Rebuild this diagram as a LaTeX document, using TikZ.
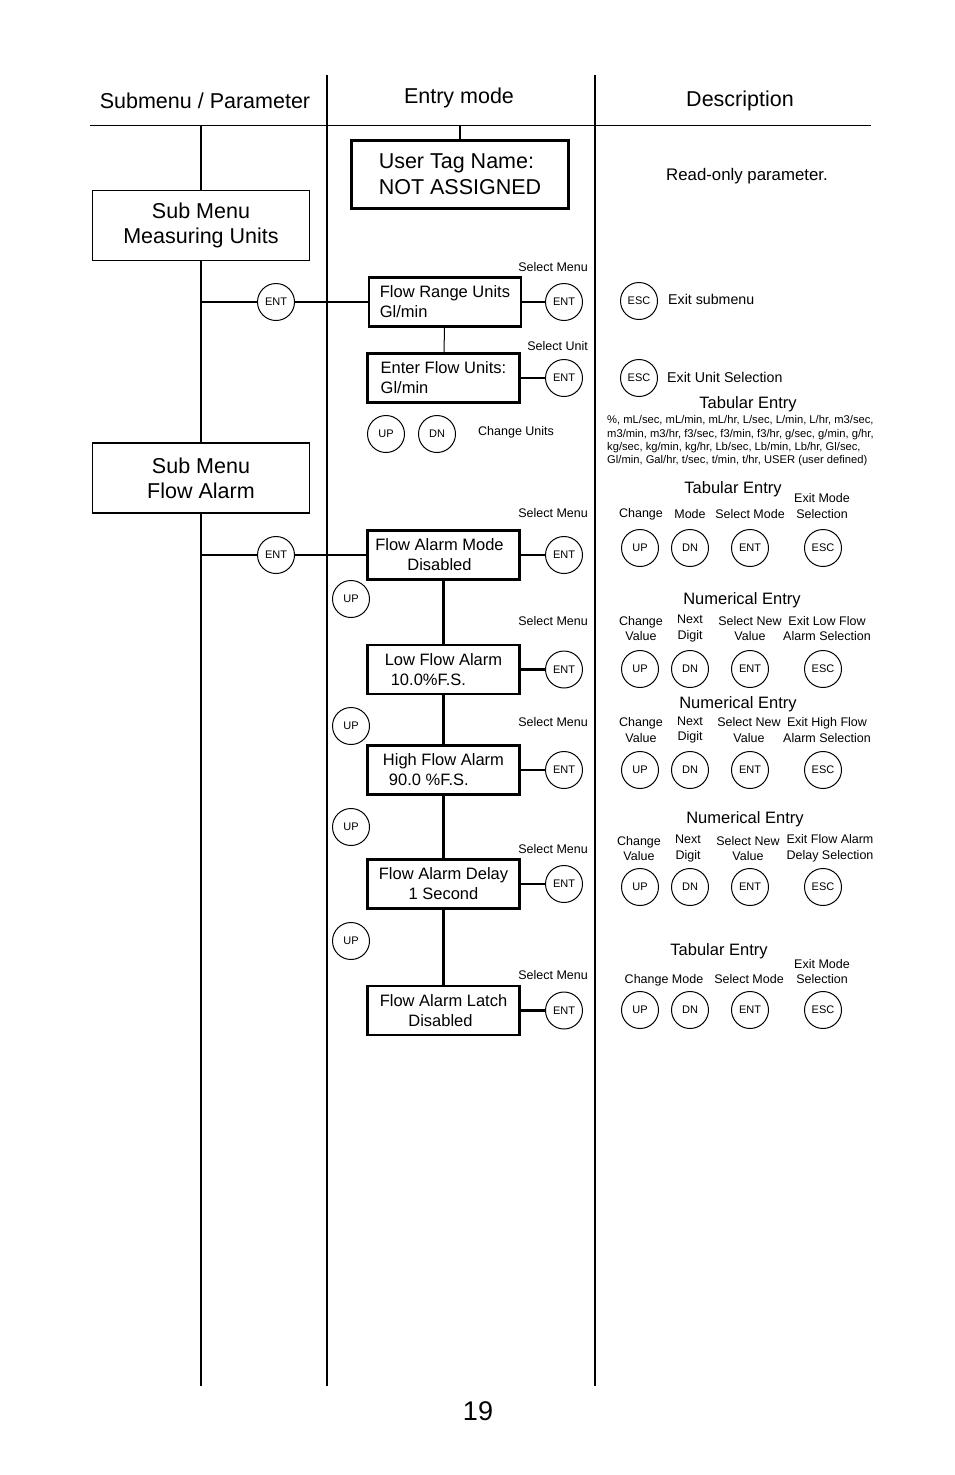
\documentclass[tikz,border=0pt]{standalone}
\usepackage{fontspec}
\setmainfont{Liberation Sans}
\usetikzlibrary{positioning}

\newcommand{\fHead}{\fontsize{21.5}{25}\selectfont}
\newcommand{\fLcd}{\fontsize{16.5}{20}\selectfont}
\newcommand{\fKey}{\fontsize{11}{13}\selectfont}
\newcommand{\fSmall}{\fontsize{12.5}{15.5}\selectfont}
\newcommand{\fTitle}{\fontsize{16.5}{20}\selectfont}
\newcommand{\fUnits}{\fontsize{11.2}{13.3}\selectfont}
\newcommand{\fDesc}{\fontsize{14.2}{17}\selectfont}

\tikzset{
	lcd/.style = {draw, line width = 2.5pt, minimum width = 152pt, minimum height = 49pt, inner sep = 0pt, font = \fLcd},
	submenu/.style = {draw, minimum width = 217pt, minimum height = 70pt, inner sep = 0pt, align = center, font = \fHead},
	key/.style = {draw, circle, line width = 1pt, minimum size = 37pt, inner sep = 0pt, font = \fKey},
	note/.style = {inner sep = 0pt, align = center, font = \fSmall},
	title/.style = {inner sep = 0pt, font = \fTitle},
	rule/.style = {black, line width = 2pt},
	link/.style = {black, line width = 2.2pt},
}

\begin{document}
\begin{tikzpicture}[x = 1pt, y = -1pt]
	\useasboundingbox (0, 0) rectangle (954, 1475);

	% headings and column rules
	\node (hsub) at (205, 101) [font = \fHead] {Submenu / Parameter};
	\node (hentry) at (459, 98) [font = \fHead] {Entry mode};
	\node (hdesc) at (740, 101) [font = \fHead] {Description};
	\coordinate (ruleL) at (90, 125);
	\coordinate (ruleR) at (871, 125);
	\draw [black, line width = 1pt] (ruleL) -- (ruleR);
	\coordinate (colAtop) at (327, 75);
	\coordinate (colAbot) at (327, 1386);
	\coordinate (colBtop) at (595, 75);
	\coordinate (colBbot) at (595, 1386);
	\draw [rule] (colAtop) -- (colAbot);
	\draw [rule] (colBtop) -- (colBbot);

	% submenu column
	\coordinate (leftTop) at (201, 125);
	\coordinate (leftBot) at (201, 1386);
	\node (meas) at (201, 225) [submenu, line width = 1pt] {Sub Menu\\Measuring Units};
	\node (alarm) at (201, 478) [submenu, line width = 1.8pt] {Sub Menu\\Flow Alarm};
	\draw [link, line width = 2.5pt] (leftTop) -- (meas.north);
	\draw [link, line width = 2.5pt] (meas.south) -- (alarm.north);
	\draw [link, line width = 2.5pt] (alarm.south) -- (leftBot);

	% user tag
	\coordinate (tagTop) at (460, 125);
	\node (tag) at (460, 174.5) [lcd, minimum width = 217pt, minimum height = 68pt, align = left, font = \fontsize{21.5}{26}\selectfont] {User Tag Name:\\NOT ASSIGNED};
	\draw [link] (tagTop) -- (tag);
	\node (ro) at (747, 176) [inner sep = 0pt, font = \fontsize{16.8}{19}\selectfont] {Read-only parameter.};

	% measuring units
	\coordinate (j1) at (201, 302);
	\node (entA) at (276, 302) [key] {ENT};
	\node (range) at (445, 302) [lcd, align = left] {Flow Range Units\\Gl/min};
	\node (entB) at (564, 302) [key] {ENT};
	\draw [link] (j1) -- (entA) -- (range) -- (entB);
	\node (selA) at (588, 267) [note, anchor = east] {Select Menu};
	\node (units) at (443.5, 378) [lcd, align = left] {Enter Flow Units:\\Gl/min};
	\draw [black, line width = 1pt] (range) -- (units);
	\node (entC) at (564, 378) [key] {ENT};
	\draw [link] (units) -- (entC);
	\node (selU) at (588, 346) [note, anchor = east] {Select Unit};
	\node (upA) at (386, 434) [key] {UP};
	\node (dnA) at (437, 434) [key] {DN};
	\node (chgU) at (478, 432) [note, anchor = west] {Change Units};

	\node (escA) at (639, 301) [key] {ESC};
	\node (exitA) at (668, 299) [anchor = west, inner sep = 0pt, font = \fDesc] {Exit submenu};
	\node (escB) at (639, 378) [key] {ESC};
	\node (exitB) at (667, 377) [anchor = west, inner sep = 0pt, font = \fDesc] {Exit Unit Selection};
	\node (tabA) at (748, 404) [title] {Tabular Entry};
	\node (list) at (607, 441) [anchor = west, align = left, inner sep = 0pt, font = \fUnits] {\%, mL/sec, mL/min, mL/hr, L/sec, L/min, L/hr, m3/sec,\\m3/min, m3/hr, f3/sec, f3/min, f3/hr, g/sec, g/min, g/hr,\\kg/sec, kg/min, kg/hr, Lb/sec, Lb/min, Lb/hr, Gl/sec,\\Gl/min, Gal/hr, t/sec, t/min, t/hr, USER (user defined)};

	% flow alarm
	\coordinate (j2) at (201, 555);
	\node (entD) at (276, 555) [key] {ENT};
	\node (mode) at (443.5, 555) [lcd, align = center] {Flow Alarm Mode\hspace*{8pt}\\Disabled\hspace*{8pt}};
	\node (entE) at (564, 555) [key] {ENT};
	\draw [link] (j2) -- (entD) -- (mode) -- (entE);
	\node (selB) at (588, 513) [note, anchor = east] {Select Menu};
	\node (upB) at (351, 599) [key] {UP};

	\node (low) at (443.5, 669.5) [lcd, align = left] {Low Flow Alarm\\\hspace*{6pt}10.0\%F.S.};
	\node (entF) at (564, 669.5) [key] {ENT};
	\draw [link] (mode) -- (low);
	\draw [link] (low) -- (entF);
	\node (selC) at (588, 621) [note, anchor = east] {Select Menu};
	\node (upC) at (351, 726) [key] {UP};

	\node (high) at (443.5, 770) [lcd, align = left] {High Flow Alarm\\\hspace*{6pt}90.0 \%F.S.};
	\node (entG) at (564, 770) [key] {ENT};
	\draw [link] (low) -- (high);
	\draw [link] (high) -- (entG);
	\node (selD) at (588, 722) [note, anchor = east] {Select Menu};
	\node (upD) at (351, 827) [key] {UP};

	\node (delay) at (443.5, 884) [lcd, align = center] {Flow Alarm Delay\\1 Second};
	\node (entH) at (564, 884) [key] {ENT};
	\draw [link] (high) -- (delay);
	\draw [link] (delay) -- (entH);
	\node (selE) at (588, 849) [note, anchor = east] {Select Menu};
	\node (upE) at (351, 941) [key] {UP};

	\node (latch) at (443.5, 1010.5) [lcd, align = center] {Flow Alarm Latch\\Disabled\hspace*{6pt}};
	\node (entI) at (564, 1010.5) [key] {ENT};
	\draw [link] (delay) -- (latch);
	\draw [link] (latch) -- (entI);
	\node (selF) at (588, 975) [note, anchor = east] {Select Menu};

	% description keys
	\foreach \r/\yy in {a/548, b/669, c/770, d/887, e/1010} {
		\node (kup\r) at (640, \yy) [key] {UP};
		\node (kdn\r) at (690, \yy) [key] {DN};
		\node (kent\r) at (750, \yy) [key] {ENT};
		\node (kesc\r) at (823, \yy) [key] {ESC};
	}

	\node (tabB) at (733, 489) [title] {Tabular Entry};
	\node (la1) at (641, 514) [note] {Change};
	\node (la2) at (690, 514) [note] {Mode};
	\node (la3) at (750, 514) [note] {Select Mode};
	\node (la4) at (822, 506) [note] {Exit Mode\\Selection};

	\node (numB) at (742, 600) [title] {Numerical Entry};
	\node (lb1) at (641, 628.5) [note] {Change\\Value};
	\node (lb2) at (690, 628.5) [note] {Next\\Digit};
	\node (lb3) at (750, 628.5) [note] {Select New\\Value};
	\node (lb4) at (827, 628.5) [note] {Exit Low Flow\\Alarm Selection};

	\node (numC) at (738, 704) [title] {Numerical Entry};
	\node (lc1) at (641, 730) [note] {Change\\Value};
	\node (lc2) at (690, 730) [note] {Next\\Digit};
	\node (lc3) at (749, 730) [note] {Select New\\Value};
	\node (lc4) at (827, 730) [note] {Exit High Flow\\Alarm Selection};

	\node (numD) at (745, 819) [title] {Numerical Entry};
	\node (ld1) at (639, 848.5) [note] {Change\\Value};
	\node (ld2) at (688, 848.5) [note] {Next\\Digit};
	\node (ld3) at (748, 848.5) [note] {Select New\\Value};
	\node (ld4) at (830, 848.5) [note] {Exit Flow Alarm\\Delay Selection};

	\node (tabE) at (719, 951) [title] {Tabular Entry};
	\node (le1) at (664, 980) [note] {Change Mode};
	\node (le3) at (749, 979) [note] {Select Mode};
	\node (le4) at (822, 971.5) [note] {Exit Mode\\Selection};

	\node (page) at (478, 1411) [font = \fontsize{27}{30}\selectfont] {19};
\end{tikzpicture}
\end{document}
